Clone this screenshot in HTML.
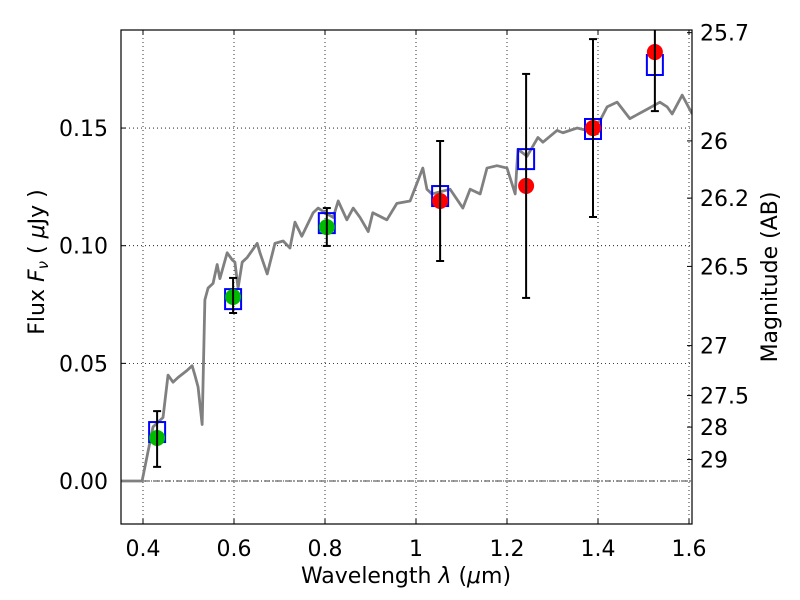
<!DOCTYPE html>
<html><head><meta charset="utf-8"><style>
body{margin:0;background:#fff;}
svg{display:block;font-family:"DejaVu Sans","Liberation Sans",sans-serif;}
</style></head><body>
<svg id="chart" width="800" height="600" viewBox="0 0 800 600"></svg>
<script>
const specWl=[0.352,0.398,0.422,0.444,0.455,0.466,0.477,0.497,0.508,0.514,0.521,0.530,0.536,0.543,0.554,0.563,0.569,0.585,0.596,0.602,0.609,0.618,0.629,0.651,0.657,0.673,0.690,0.708,0.723,0.734,0.749,0.774,0.785,0.800,0.818,0.829,0.848,0.862,0.877,0.895,0.905,0.936,0.958,0.987,0.993,1.015,1.024,1.035,1.075,1.103,1.119,1.141,1.156,1.178,1.200,1.218,1.224,1.244,1.268,1.279,1.310,1.323,1.354,1.376,1.404,1.420,1.442,1.470,1.508,1.536,1.552,1.563,1.585,1.607];
const specFlux=[0,0,0.023,0.027,0.045,0.042,0.044,0.047,0.049,0.045,0.040,0.024,0.077,0.082,0.084,0.092,0.086,0.097,0.094,0.093,0.082,0.093,0.095,0.101,0.097,0.088,0.101,0.102,0.099,0.110,0.104,0.114,0.116,0.114,0.112,0.119,0.111,0.116,0.112,0.106,0.114,0.111,0.118,0.119,0.122,0.133,0.124,0.122,0.124,0.116,0.124,0.122,0.133,0.134,0.133,0.122,0.141,0.138,0.146,0.144,0.149,0.148,0.150,0.149,0.153,0.159,0.161,0.154,0.158,0.161,0.159,0.156,0.164,0.156];
const obsWl=[0.431,0.598,0.804,1.053,1.242,1.389,1.525];
const obsFlux=[0.0183,0.0782,0.1079,0.1190,0.1254,0.1500,0.1823];
const obsHi=[0.0297,0.0863,0.1160,0.1445,0.1730,0.1878,0.205];
const obsLo=[0.0060,0.0714,0.0999,0.0935,0.0778,0.1122,0.1572];
const modelFlux=[0.0208,0.0773,0.1096,0.1211,0.1368,0.1496,0.1768];
const obsColor=['#00bb00','#00bb00','#00bb00','red','red','red','red'];
const xTicks=[0.4,0.6,0.8,1.0,1.2,1.4,1.6];
const xTickLabels=['0.4','0.6','0.8','1','1.2','1.4','1.6'];
const yTicks=[0,0.05,0.10,0.15];
const yTickLabels=['0.00','0.05','0.10','0.15'];
const magTicks=[25.7,26,26.2,26.5,27,27.5,28,29];
const magLabels=['25.7','26','26.2','26.5','27','27.5','28','29'];

const L=121,R=692,T=30,B=524;
const X=v=>143+(v-0.4)*455;
const Y=f=>481-f*2353;
const NS='http://www.w3.org/2000/svg';
const svg=document.getElementById('chart');
function mk(tag,attrs,parent){const e=document.createElementNS(NS,tag);for(const k in attrs)e.setAttribute(k,attrs[k]);(parent||svg).appendChild(e);return e;}
const clip=mk('clipPath',{id:'pc'});mk('rect',{x:L,y:T,width:R-L,height:B-T},clip);
xTicks.forEach((v,i)=>{
  const g=mk('line',{x1:X(v),x2:X(v),y1:T,y2:B,stroke:'#000','stroke-width':0.8,'stroke-dasharray':'1,3'});
  
  
  mk('line',{x1:X(v),x2:X(v),y1:B,y2:B-5,stroke:'#000'});
  mk('line',{x1:X(v),x2:X(v),y1:T,y2:T+5,stroke:'#000'});
  const t=mk('text',{x:X(v),y:B+32,'text-anchor':'middle','font-size':22});
  t.textContent=xTickLabels[i];
  
  
});
yTicks.forEach((v,i)=>{
  const g=mk('line',{x1:L,x2:R,y1:Y(v),y2:Y(v),stroke:'#000','stroke-width':0.8,'stroke-dasharray':'1,3'});
  
  
  mk('line',{x1:L,x2:L+5,y1:Y(v),y2:Y(v),stroke:'#000'});
  const t=mk('text',{x:L-13,y:Y(v)+8,'text-anchor':'end','font-size':22});
  t.textContent=yTickLabels[i];
  
  
});
magTicks.forEach((m,i)=>{
  const y=Y(Math.pow(10,(23.9-m)/2.5));
  mk('line',{x1:R,x2:R-5,y1:y,y2:y,stroke:'#000'});
  const t=mk('text',{x:R+8,y:y+8,'font-size':22});
  t.textContent=magLabels[i];
  
  
});
const zl=mk('line',{x1:L,x2:R,y1:Y(0),y2:Y(0),stroke:'#000','stroke-width':0.8,'stroke-dasharray':'6,2,1,2'});


const pg=mk('g',{'clip-path':'url(#pc)'});
const sp=mk('polyline',{points:specWl.map((w,i)=>X(w)+','+Y(specFlux[i])).join(' '),fill:'none',stroke:'#808080','stroke-width':2.8,'stroke-linejoin':'round'},pg);


obsWl.forEach((w,i)=>{
  const x=X(w);
  const b=mk('rect',{x:x-8,y:Y(modelFlux[i])-10,width:16,height:20,fill:'none',stroke:'#0000ff','stroke-width':2},pg);
  
  
  const c=mk('circle',{cx:x,cy:Y(obsFlux[i]),r:8,fill:obsColor[i]},pg);
  
  
  const e=mk('g',{stroke:'#000','stroke-width':2},pg);
  
  
  mk('line',{x1:x,x2:x,y1:Y(obsHi[i]),y2:Y(obsLo[i])},e);
  mk('line',{x1:x-4,x2:x+4,y1:Y(obsHi[i]),y2:Y(obsHi[i])},e);
  mk('line',{x1:x-4,x2:x+4,y1:Y(obsLo[i]),y2:Y(obsLo[i])},e);
});
const fr=mk('rect',{x:L,y:T,width:R-L,height:B-T,fill:'none',stroke:'#000','stroke-width':1.2});


const xl=mk('text',{x:406,y:583,'text-anchor':'middle','font-size':22});
xl.innerHTML='Wavelength  <tspan font-style="italic">λ</tspan> (<tspan font-style="italic">μ</tspan>m)';


const yl=mk('text',{transform:'translate(44,262) rotate(-90)','text-anchor':'middle','font-size':22});
yl.innerHTML='Flux  <tspan font-style="italic">F</tspan><tspan font-style="italic" font-size="15" dy="4">ν</tspan><tspan dy="-4">  ( </tspan><tspan font-style="italic">μ</tspan>Jy )';


const ml=mk('text',{transform:'translate(777,277) rotate(-90)','text-anchor':'middle','font-size':22});
ml.textContent='Magnitude (AB)';


</script>
</body></html>
